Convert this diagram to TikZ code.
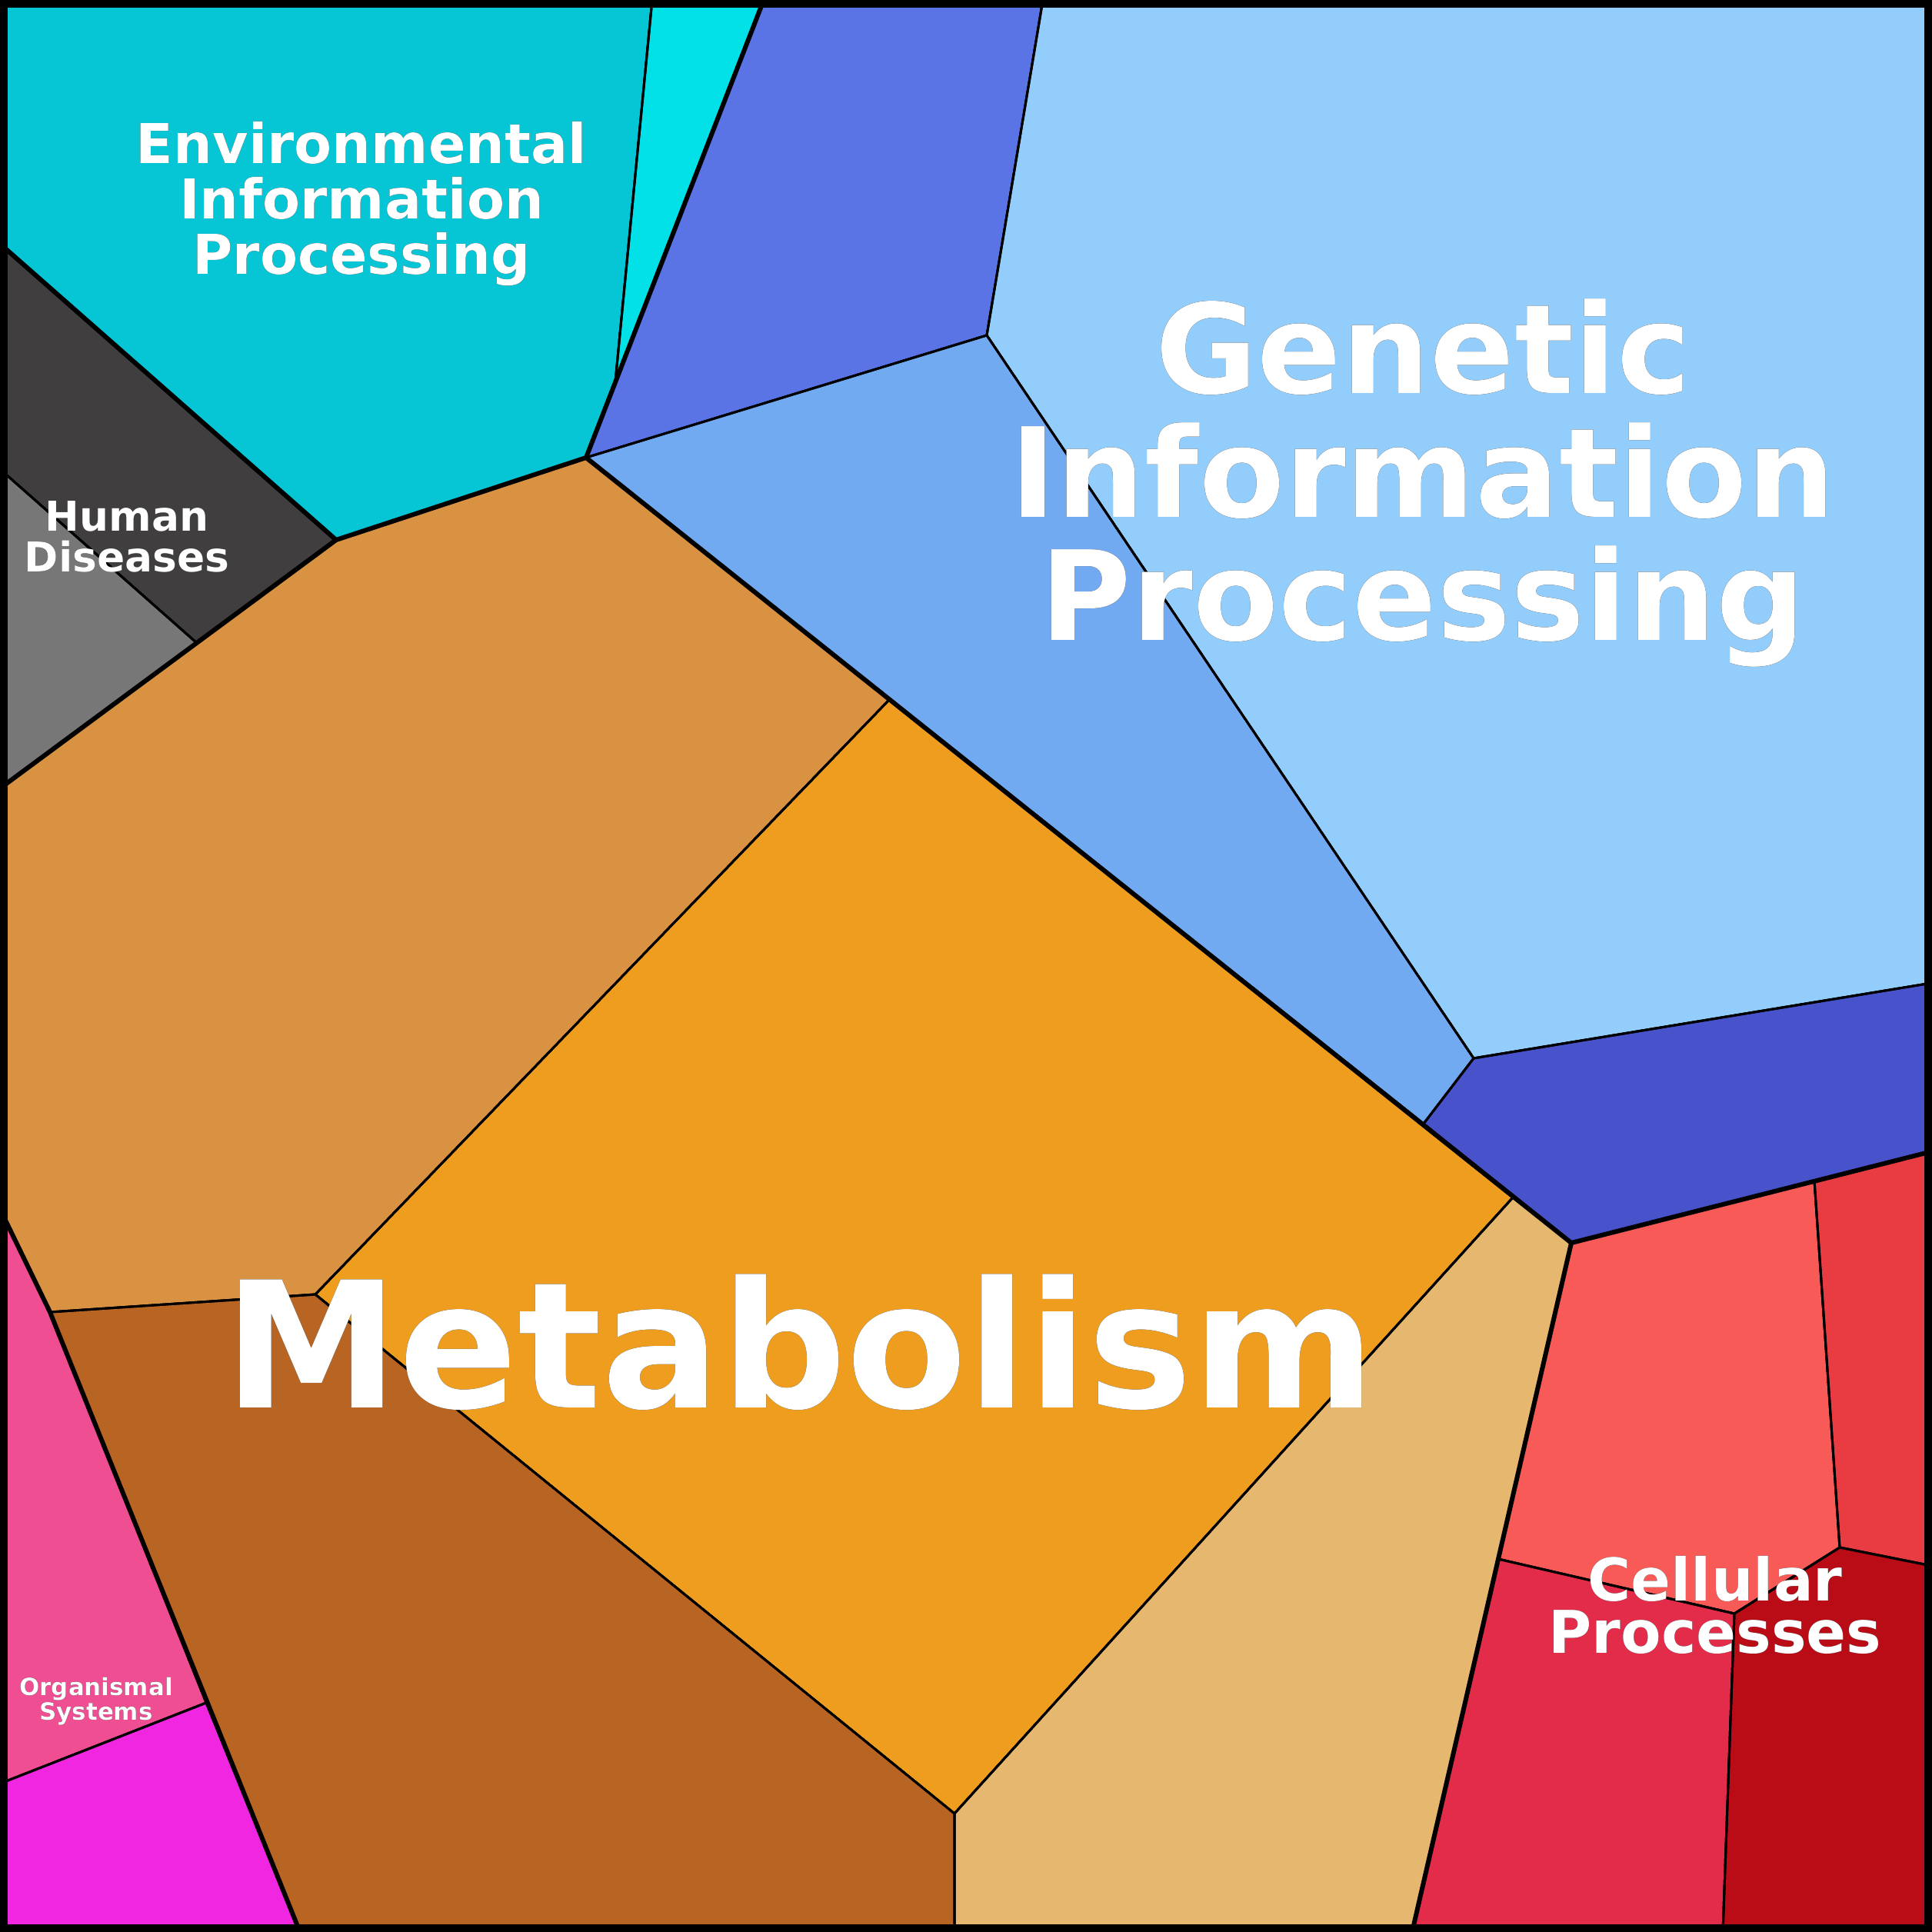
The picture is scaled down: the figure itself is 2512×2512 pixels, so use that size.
\documentclass[tikz,border=0pt]{standalone}
\usepackage{fontspec}
\setmainfont{DejaVu Sans}
\usepackage[outline]{contour}
\contourlength{0.4pt}
\begin{document}
\begin{tikzpicture}[x=0.01cm,y=-0.01cm,
  cell/.style={draw=black,line width=0.85pt,line join=round},
  group/.style={draw=black,line width=1.7pt,line join=round,line cap=round},
  lab/.style={text=white,font=\bfseries,align=center,inner sep=0pt}]
\useasboundingbox (0,0) rectangle (2512,2512);
\definecolor{cTeal}{HTML}{06C5D5}\definecolor{cCyan}{HTML}{02E0E8}
\definecolor{cBlue}{HTML}{5A74E6}\definecolor{cLBlue}{HTML}{92CDFC}
\definecolor{cMBlue}{HTML}{72AAF2}\definecolor{cDBlue}{HTML}{4852CA}
\definecolor{cDark}{HTML}{403E3F}\definecolor{cGrey}{HTML}{777777}
\definecolor{cTan}{HTML}{D99242}\definecolor{cMet}{HTML}{EE9D1F}
\definecolor{cBrown}{HTML}{B86422}\definecolor{cLTan}{HTML}{E6B76F}
\definecolor{cPink}{HTML}{F04E93}\definecolor{cMag}{HTML}{F026E0}
\definecolor{cSalmon}{HTML}{F75A57}\definecolor{cRed}{HTML}{E93C42}
\definecolor{cCrim}{HTML}{E32B4A}\definecolor{cDRed}{HTML}{BA0C17}
\fill[cell,fill=cTeal] (0,0)--(848,0)--(800,497)--(762,595)--(437,702)--(0,317)--cycle;
\fill[cell,fill=cCyan] (848,0)--(993,0)--(800,497)--cycle;
\fill[cell,fill=cBlue] (993,0)--(1356,0)--(1283,436)--(762,595)--cycle;
\fill[cell,fill=cLBlue] (1356,0)--(2512,0)--(2512,1278)--(1916,1376)--(1283,436)--cycle;
\fill[cell,fill=cMBlue] (762,595)--(1283,436)--(1916,1376)--(1851,1461)--cycle;
\fill[cell,fill=cDBlue] (1916,1376)--(2512,1278)--(2512,1497)--(2043,1616)--(1851,1461)--cycle;
\fill[cell,fill=cDark] (0,317)--(437,702)--(257,837)--(0,610)--cycle;
\fill[cell,fill=cGrey] (0,610)--(257,837)--(0,1025)--cycle;
\fill[cell,fill=cTan] (437,702)--(762,595)--(1156,910)--(410,1683)--(65,1706)--(0,1572)--(0,1025)--cycle;
\fill[cell,fill=cMet] (1156,910)--(1967,1557)--(1241,2358)--(410,1683)--cycle;
\fill[cell,fill=cBrown] (65,1706)--(410,1683)--(1241,2358)--(1241,2512)--(390,2512)--cycle;
\fill[cell,fill=cLTan] (1967,1557)--(2043,1616)--(1836,2512)--(1241,2512)--(1241,2358)--cycle;
\fill[cell,fill=cPink] (0,1572)--(65,1706)--(268,2214)--(0,2319)--cycle;
\fill[cell,fill=cMag] (0,2319)--(268,2214)--(390,2512)--(0,2512)--cycle;
\fill[cell,fill=cSalmon] (2043,1616)--(2359,1535)--(2392,2012)--(2255,2098)--(1948,2027)--cycle;
\fill[cell,fill=cRed] (2359,1535)--(2512,1497)--(2512,2036)--(2392,2012)--cycle;
\fill[cell,fill=cCrim] (1948,2027)--(2255,2098)--(2240,2512)--(1836,2512)--cycle;
\fill[cell,fill=cDRed] (2255,2098)--(2392,2012)--(2512,2036)--(2512,2512)--(2240,2512)--cycle;
% thin cell edges
\draw[cell] (848,0)--(800,497) (1283,436)--(762,595) (1283,436)--(1356,0) (1283,436)--(1916,1376)--(2512,1278)
 (1916,1376)--(1851,1461) (0,610)--(257,837) (1156,910)--(410,1683)--(65,1706) (410,1683)--(1241,2358)--(1967,1557)
 (1241,2358)--(1241,2512) (268,2214)--(0,2319) (2359,1535)--(2392,2012)--(2512,2036) (1948,2027)--(2255,2098)--(2392,2012) (2255,2098)--(2240,2512);
% group edges
\draw[group] (0,317)--(437,702)--(762,595)--(993,0);
\draw[group] (762,595)--(2043,1616)--(2512,1497);
\draw[group] (2043,1616)--(1836,2512);
\draw[group] (437,702)--(0,1025);
\draw[group] (0,1572)--(65,1706)--(390,2512);
\draw[black,line width=2.9pt] (5,5) rectangle (2507,2507);
% labels
\node[lab,font=\bfseries\fontsize{20.3}{20.5}\selectfont] (env) at (470,265) {\contour{black}{Environmental}\\\contour{black}{Information}\\\contour{black}{Processing}};
\node[lab,font=\bfseries\fontsize{46}{45.5}\selectfont] (gen) at (1850,628) {\contour{black}{Genetic}\\\contour{black}{Information}\\\contour{black}{Processing}};
\node[lab,font=\bfseries\fontsize{15.2}{15}\selectfont] (hum) at (165,698) {\contour{black}{Human}\\\contour{black}{Diseases}};
\node[lab,font=\bfseries\fontsize{65}{60}\selectfont] (met) at (1040,1745) {\contour{black}{Metabolism}};
\node[lab,font=\bfseries\fontsize{21.8}{19.5}\selectfont] (cel) at (2230,2087) {\contour{black}{Cellular}\\\contour{black}{Processes}};
\node[lab,font=\bfseries\fontsize{8.8}{9}\selectfont] (org) at (125,2212) {\contour{black}{Organismal}\\\contour{black}{Systems}};
\end{tikzpicture}
\end{document}
